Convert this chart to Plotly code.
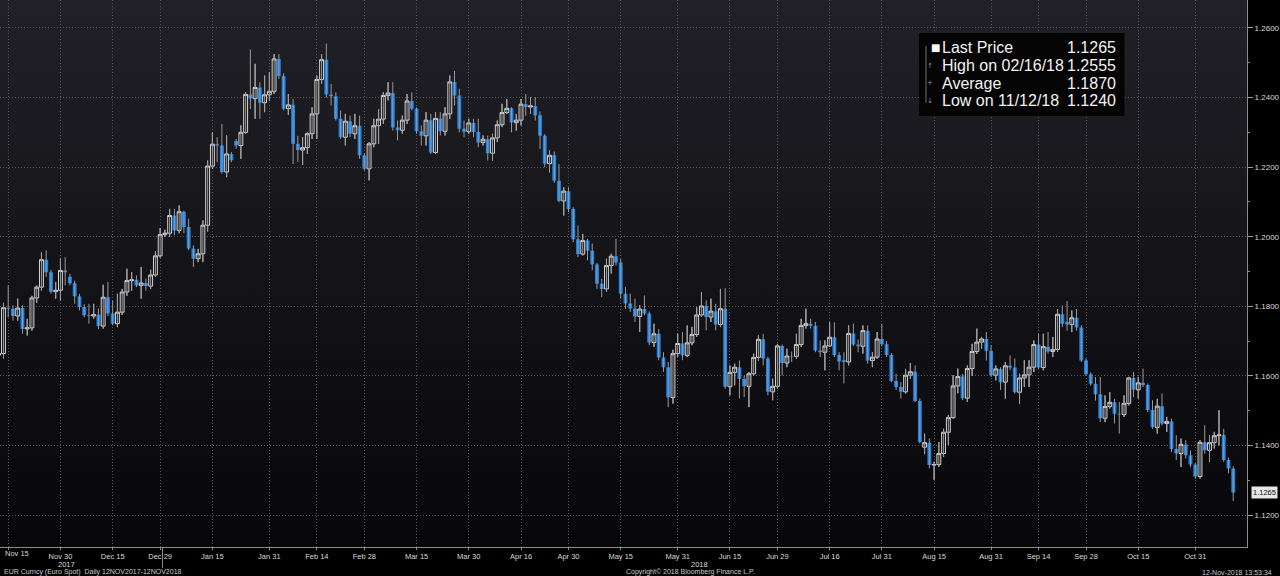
import base64
import pandas as pd
import plotly.graph_objects as go

# ---------------- data (EUR Curncy daily, 13 Nov 2017 - 12 Nov 2018) ----------------
dates = pd.bdate_range("2017-11-13", "2018-11-12")

opens = [
    1.1660, 1.1664, 1.1796, 1.1793, 1.1772, 1.1795, 1.1735, 1.1738, 1.1824, 1.1855,
    1.1934, 1.1898, 1.1842, 1.1846, 1.1903, 1.1885, 1.1866, 1.1829, 1.1798, 1.1774,
    1.1772, 1.1776, 1.1743, 1.1826, 1.1779, 1.1750, 1.1783, 1.1841, 1.1874, 1.1876,
    1.1860, 1.1867, 1.1858, 1.1890, 1.1945, 1.2006, 1.2010, 1.2061, 1.2018, 1.2072,
    1.2028, 1.1966, 1.1937, 1.1951, 1.2033, 1.2203, 1.2266, 1.2262, 1.2186, 1.2238,
    1.2275, 1.2262, 1.2300, 1.2409, 1.2397, 1.2429, 1.2385, 1.2408, 1.2418, 1.2511,
    1.2462, 1.2368, 1.2379, 1.2267, 1.2249, 1.2256, 1.2296, 1.2353, 1.2452, 1.2509,
    1.2409, 1.2404, 1.2339, 1.2286, 1.2332, 1.2296, 1.2319, 1.2234, 1.2195, 1.2267,
    1.2319, 1.2338, 1.2406, 1.2413, 1.2314, 1.2306, 1.2335, 1.2390, 1.2368, 1.2303,
    1.2290, 1.2335, 1.2242, 1.2340, 1.2303, 1.2353, 1.2445, 1.2406, 1.2310, 1.2302,
    1.2327, 1.2301, 1.2271, 1.2280, 1.2240, 1.2284, 1.2322, 1.2357, 1.2369, 1.2328,
    1.2335, 1.2381, 1.2373, 1.2376, 1.2349, 1.2290, 1.2210, 1.2234, 1.2161, 1.2103,
    1.2131, 1.2080, 1.1993, 1.1950, 1.1989, 1.1960, 1.1920, 1.1865, 1.1850, 1.1917,
    1.1944, 1.1926, 1.1836, 1.1808, 1.1794, 1.1771, 1.1792, 1.1779, 1.1696, 1.1721,
    1.1653, 1.1625, 1.1538, 1.1664, 1.1693, 1.1659, 1.1695, 1.1719, 1.1775, 1.1801,
    1.1769, 1.1786, 1.1748, 1.1793, 1.1569, 1.1610, 1.1625, 1.1591, 1.1570, 1.1606,
    1.1653, 1.1705, 1.1650, 1.1554, 1.1570, 1.1686, 1.1637, 1.1657, 1.1656, 1.1690,
    1.1745, 1.1750, 1.1744, 1.1673, 1.1668, 1.1686, 1.1711, 1.1660, 1.1645, 1.1640,
    1.1722, 1.1690, 1.1685, 1.1730, 1.1644, 1.1654, 1.1706, 1.1691, 1.1660, 1.1585,
    1.1568, 1.1554, 1.1602, 1.1612, 1.1528, 1.1395, 1.1408, 1.1344, 1.1345, 1.1377,
    1.1438, 1.1480, 1.1571, 1.1598, 1.1536, 1.1621, 1.1670, 1.1697, 1.1706, 1.1672,
    1.1602, 1.1620, 1.1582, 1.1629, 1.1624, 1.1553, 1.1594, 1.1603, 1.1625, 1.1690,
    1.1624, 1.1684, 1.1670, 1.1676, 1.1777, 1.1755, 1.1748, 1.1767, 1.1739, 1.1644,
    1.1605, 1.1577, 1.1547, 1.1478, 1.1512, 1.1524, 1.1491, 1.1489, 1.1521, 1.1594,
    1.1560, 1.1580, 1.1574, 1.1502, 1.1452, 1.1513, 1.1463, 1.1469, 1.1390, 1.1377,
    1.1403, 1.1372, 1.1345, 1.1311, 1.1409, 1.1386, 1.1408, 1.1428, 1.1430, 1.1358,
    1.1334,
]

highs = [
    1.1680, 1.1810, 1.1860, 1.1803, 1.1822, 1.1803, 1.1764, 1.1830, 1.1860, 1.1955,
    1.1961, 1.1905, 1.1870, 1.1937, 1.1941, 1.1893, 1.1874, 1.1836, 1.1806, 1.1807,
    1.1807, 1.1794, 1.1862, 1.1870, 1.1817, 1.1836, 1.1850, 1.1908, 1.1898, 1.1889,
    1.1913, 1.1880, 1.1905, 1.1958, 1.2025, 1.2020, 1.2080, 1.2080, 1.2090, 1.2075,
    1.2052, 1.1975, 1.1965, 1.2047, 1.2219, 1.2300, 1.2286, 1.2324, 1.2291, 1.2243,
    1.2281, 1.2320, 1.2415, 1.2538, 1.2497, 1.2444, 1.2463, 1.2473, 1.2525, 1.2525,
    1.2470, 1.2410, 1.2396, 1.2290, 1.2286, 1.2300, 1.2372, 1.2463, 1.2525, 1.2555,
    1.2439, 1.2415, 1.2363, 1.2353, 1.2348, 1.2353, 1.2348, 1.2240, 1.2272, 1.2339,
    1.2367, 1.2415, 1.2444, 1.2444, 1.2334, 1.2348, 1.2410, 1.2415, 1.2372, 1.2320,
    1.2358, 1.2353, 1.2358, 1.2358, 1.2372, 1.2463, 1.2477, 1.2425, 1.2334, 1.2339,
    1.2339, 1.2339, 1.2291, 1.2291, 1.2296, 1.2334, 1.2382, 1.2396, 1.2372, 1.2353,
    1.2396, 1.2410, 1.2401, 1.2401, 1.2360, 1.2295, 1.2248, 1.2245, 1.2209, 1.2142,
    1.2142, 1.2085, 1.2032, 1.2008, 1.1994, 1.1980, 1.1925, 1.1879, 1.1937, 1.1951,
    1.1994, 1.1937, 1.1855, 1.1836, 1.1822, 1.1803, 1.1831, 1.1785, 1.1750, 1.1735,
    1.1668, 1.1640, 1.1675, 1.1721, 1.1726, 1.1745, 1.1741, 1.1798, 1.1841, 1.1817,
    1.1822, 1.1807, 1.1850, 1.1852, 1.1630, 1.1635, 1.1644, 1.1601, 1.1611, 1.1664,
    1.1716, 1.1721, 1.1655, 1.1592, 1.1692, 1.1690, 1.1678, 1.1670, 1.1721, 1.1764,
    1.1793, 1.1764, 1.1755, 1.1702, 1.1702, 1.1754, 1.1754, 1.1668, 1.1668, 1.1745,
    1.1750, 1.1705, 1.1745, 1.1745, 1.1668, 1.1726, 1.1750, 1.1700, 1.1665, 1.1606,
    1.1582, 1.1620, 1.1637, 1.1630, 1.1535, 1.1434, 1.1420, 1.1353, 1.1410, 1.1448,
    1.1487, 1.1602, 1.1621, 1.1606, 1.1630, 1.1692, 1.1736, 1.1712, 1.1726, 1.1688,
    1.1630, 1.1625, 1.1640, 1.1659, 1.1650, 1.1606, 1.1645, 1.1645, 1.1702, 1.1721,
    1.1721, 1.1726, 1.1712, 1.1792, 1.1802, 1.1815, 1.1788, 1.1792, 1.1745, 1.1650,
    1.1610, 1.1597, 1.1597, 1.1544, 1.1553, 1.1534, 1.1525, 1.1544, 1.1597, 1.1611,
    1.1597, 1.1621, 1.1578, 1.1530, 1.1534, 1.1549, 1.1482, 1.1477, 1.1429, 1.1420,
    1.1415, 1.1386, 1.1350, 1.1415, 1.1458, 1.1429, 1.1439, 1.1501, 1.1448, 1.1365,
    1.1340,
]

lows = [
    1.1640, 1.1650, 1.1769, 1.1759, 1.1759, 1.1721, 1.1716, 1.1730, 1.1810, 1.1845,
    1.1885, 1.1836, 1.1822, 1.1817, 1.1860, 1.1860, 1.1807, 1.1788, 1.1768, 1.1750,
    1.1764, 1.1735, 1.1736, 1.1772, 1.1745, 1.1740, 1.1775, 1.1830, 1.1845, 1.1855,
    1.1822, 1.1845, 1.1850, 1.1885, 1.1940, 1.1999, 1.2000, 1.2004, 1.2010, 1.2010,
    1.1961, 1.1913, 1.1927, 1.1927, 1.2015, 1.2195, 1.2214, 1.2181, 1.2171, 1.2214,
    1.2253, 1.2224, 1.2296, 1.2367, 1.2339, 1.2339, 1.2358, 1.2391, 1.2410, 1.2453,
    1.2363, 1.2350, 1.2209, 1.2215, 1.2206, 1.2238, 1.2281, 1.2281, 1.2440, 1.2400,
    1.2377, 1.2334, 1.2281, 1.2262, 1.2286, 1.2281, 1.2224, 1.2190, 1.2162, 1.2257,
    1.2267, 1.2324, 1.2392, 1.2305, 1.2277, 1.2296, 1.2324, 1.2363, 1.2296, 1.2262,
    1.2262, 1.2238, 1.2238, 1.2291, 1.2291, 1.2339, 1.2377, 1.2300, 1.2286, 1.2296,
    1.2286, 1.2257, 1.2262, 1.2219, 1.2219, 1.2272, 1.2315, 1.2353, 1.2300, 1.2305,
    1.2320, 1.2348, 1.2353, 1.2334, 1.2252, 1.2200, 1.2185, 1.2155, 1.2099, 1.2061,
    1.2071, 1.1984, 1.1941, 1.1946, 1.1932, 1.1903, 1.1850, 1.1826, 1.1841, 1.1894,
    1.1917, 1.1822, 1.1793, 1.1784, 1.1755, 1.1726, 1.1774, 1.1688, 1.1683, 1.1645,
    1.1611, 1.1510, 1.1520, 1.1654, 1.1645, 1.1654, 1.1688, 1.1712, 1.1769, 1.1731,
    1.1755, 1.1731, 1.1740, 1.1563, 1.1544, 1.1573, 1.1535, 1.1539, 1.1510, 1.1601,
    1.1644, 1.1630, 1.1544, 1.1530, 1.1563, 1.1601, 1.1625, 1.1640, 1.1649, 1.1683,
    1.1736, 1.1736, 1.1668, 1.1654, 1.1616, 1.1683, 1.1654, 1.1616, 1.1578, 1.1630,
    1.1685, 1.1668, 1.1664, 1.1635, 1.1625, 1.1649, 1.1685, 1.1654, 1.1582, 1.1560,
    1.1535, 1.1549, 1.1592, 1.1525, 1.1405, 1.1375, 1.1334, 1.1301, 1.1338, 1.1367,
    1.1401, 1.1477, 1.1550, 1.1530, 1.1525, 1.1600, 1.1663, 1.1678, 1.1644, 1.1597,
    1.1587, 1.1559, 1.1535, 1.1616, 1.1549, 1.1520, 1.1568, 1.1568, 1.1611, 1.1620,
    1.1616, 1.1664, 1.1654, 1.1669, 1.1740, 1.1730, 1.1726, 1.1730, 1.1640, 1.1600,
    1.1572, 1.1529, 1.1467, 1.1467, 1.1506, 1.1463, 1.1434, 1.1482, 1.1515, 1.1539,
    1.1535, 1.1568, 1.1496, 1.1448, 1.1434, 1.1458, 1.1439, 1.1381, 1.1358, 1.1338,
    1.1362, 1.1338, 1.1305, 1.1305, 1.1376, 1.1353, 1.1391, 1.1400, 1.1353, 1.1320,
    1.1240,
]

closes = [
    1.1664, 1.1796, 1.1793, 1.1772, 1.1795, 1.1735, 1.1738, 1.1824, 1.1855, 1.1934,
    1.1898, 1.1842, 1.1846, 1.1903, 1.1898, 1.1866, 1.1829, 1.1798, 1.1774, 1.1772,
    1.1776, 1.1743, 1.1826, 1.1779, 1.1750, 1.1783, 1.1841, 1.1874, 1.1876, 1.1860,
    1.1867, 1.1858, 1.1890, 1.1945, 1.2006, 1.2010, 1.2061, 1.2018, 1.2072, 1.2028,
    1.1966, 1.1937, 1.1951, 1.2033, 1.2203, 1.2266, 1.2262, 1.2186, 1.2238, 1.2220,
    1.2262, 1.2300, 1.2409, 1.2397, 1.2429, 1.2385, 1.2408, 1.2418, 1.2511, 1.2462,
    1.2368, 1.2379, 1.2267, 1.2249, 1.2256, 1.2296, 1.2353, 1.2452, 1.2509, 1.2409,
    1.2404, 1.2339, 1.2286, 1.2332, 1.2296, 1.2319, 1.2234, 1.2195, 1.2267, 1.2319,
    1.2338, 1.2406, 1.2413, 1.2314, 1.2306, 1.2335, 1.2390, 1.2368, 1.2303, 1.2290,
    1.2335, 1.2242, 1.2340, 1.2303, 1.2353, 1.2445, 1.2406, 1.2310, 1.2302, 1.2327,
    1.2301, 1.2271, 1.2280, 1.2240, 1.2284, 1.2322, 1.2357, 1.2369, 1.2328, 1.2335,
    1.2381, 1.2373, 1.2376, 1.2349, 1.2290, 1.2210, 1.2234, 1.2161, 1.2103, 1.2131,
    1.2080, 1.1993, 1.1950, 1.1989, 1.1960, 1.1920, 1.1865, 1.1850, 1.1917, 1.1944,
    1.1926, 1.1836, 1.1808, 1.1794, 1.1771, 1.1792, 1.1779, 1.1696, 1.1721, 1.1653,
    1.1625, 1.1538, 1.1664, 1.1693, 1.1659, 1.1695, 1.1719, 1.1775, 1.1801, 1.1769,
    1.1786, 1.1748, 1.1793, 1.1569, 1.1610, 1.1625, 1.1591, 1.1570, 1.1606, 1.1653,
    1.1705, 1.1650, 1.1554, 1.1570, 1.1686, 1.1637, 1.1657, 1.1656, 1.1690, 1.1745,
    1.1750, 1.1744, 1.1673, 1.1668, 1.1686, 1.1711, 1.1660, 1.1641, 1.1640, 1.1722,
    1.1690, 1.1685, 1.1730, 1.1644, 1.1654, 1.1706, 1.1691, 1.1660, 1.1585, 1.1568,
    1.1554, 1.1602, 1.1612, 1.1528, 1.1410, 1.1408, 1.1344, 1.1345, 1.1377, 1.1438,
    1.1480, 1.1571, 1.1598, 1.1536, 1.1621, 1.1670, 1.1697, 1.1706, 1.1672, 1.1602,
    1.1620, 1.1582, 1.1629, 1.1624, 1.1553, 1.1594, 1.1603, 1.1625, 1.1690, 1.1624,
    1.1684, 1.1670, 1.1676, 1.1777, 1.1750, 1.1748, 1.1767, 1.1739, 1.1644, 1.1605,
    1.1577, 1.1547, 1.1478, 1.1512, 1.1524, 1.1491, 1.1489, 1.1521, 1.1594, 1.1560,
    1.1580, 1.1574, 1.1502, 1.1452, 1.1513, 1.1463, 1.1469, 1.1390, 1.1377, 1.1403,
    1.1372, 1.1345, 1.1311, 1.1409, 1.1386, 1.1408, 1.1428, 1.1430, 1.1358, 1.1334,
    1.1265,
]

tick_dates = ["2017-11-15", "2017-11-30", "2017-12-15", "2017-12-29", "2018-01-15",
              "2018-01-31", "2018-02-14", "2018-02-28", "2018-03-15", "2018-03-30",
              "2018-04-16", "2018-04-30", "2018-05-15", "2018-05-31", "2018-06-15",
              "2018-06-29", "2018-07-16", "2018-07-31", "2018-08-15", "2018-08-31",
              "2018-09-14", "2018-09-28", "2018-10-15", "2018-10-31"]
tick_labels = ["Nov 15", "Nov 30", "Dec 15", "Dec 29", "Jan 15", "Jan 31", "Feb 14",
               "Feb 28", "Mar 15", "Mar 30", "Apr 16", "Apr 30", "May 15", "May 31",
               "Jun 15", "Jun 29", "Jul 16", "Jul 31", "Aug 15", "Aug 31", "Sep 14",
               "Sep 28", "Oct 15", "Oct 31"]
price_ticks = [1.12, 1.14, 1.16, 1.18, 1.20, 1.22, 1.24, 1.26]

legend_labels = ["Last Price", "High on 02/16/18", "Average", "Low on 11/12/18"]
legend_values = ["1.1265", "1.2555", "1.1870", "1.1240"]
last_price = 1.1265

# ---------------- figure ----------------
x = list(range(len(dates)))
tick_pos = [dates.get_loc(pd.Timestamp(d)) for d in tick_dates]

W_PLOT, H_PLOT = 1251.0, 547.0
def px(v):
    return v / W_PLOT
def py(v):
    return 1 - v / H_PLOT

FONT = "Liberation Sans, Arial, sans-serif"
TICKC = "#d8d8d8"
SMALL = 7.5
FOOT = 7

wx, wy = [], []
for i, (h, l) in enumerate(zip(highs, lows)):
    wx += [i, i, None]
    wy += [l, h, None]

fig = go.Figure()
fig.add_trace(go.Scatter(x=wx, y=wy, mode="lines",
                         line=dict(color="#9a9a9a", width=1),
                         hoverinfo="skip", showlegend=False))
fig.add_trace(go.Candlestick(
    x=x, open=opens, high=highs, low=lows, close=closes,
    increasing=dict(line=dict(color="#d4d4d4", width=1), fillcolor="#16161b"),
    decreasing=dict(line=dict(color="#1b84ea", width=0), fillcolor="#1b84ea"),
    whiskerwidth=0, showlegend=False, name="EUR"))

svg = ('<svg xmlns="http://www.w3.org/2000/svg" width="100" height="100" '
       'preserveAspectRatio="none"><defs><linearGradient id="g" x1="0" y1="0" '
       'x2="0" y2="1"><stop offset="0" stop-color="#202026"/>'
       '<stop offset="1" stop-color="#07070a"/></linearGradient></defs>'
       '<rect width="100" height="100" fill="url(#g)"/></svg>')
svg_uri = "data:image/svg+xml;base64," + base64.b64encode(svg.encode()).decode()

annotations = []
# legend box texts
rows_y = [48, 65.5, 83, 100.5]
for lab, val, yy in zip(legend_labels, legend_values, rows_y):
    annotations.append(dict(xref="paper", yref="paper", x=px(943), y=py(yy), text=lab,
                            showarrow=False, xanchor="left", yanchor="middle",
                            font=dict(family=FONT, size=16, color="#f2f2f2")))
    annotations.append(dict(xref="paper", yref="paper", x=px(1122), y=py(yy), text=val,
                            showarrow=False, xanchor="right", yanchor="middle",
                            font=dict(family=FONT, size=16, color="#f2f2f2")))
annotations.append(dict(xref="paper", yref="paper", x=px(938), y=py(48), text="■",
                        showarrow=False, xanchor="center", yanchor="middle",
                        font=dict(family="DejaVu Sans", size=10, color="#ffffff")))
for glyph, yy in zip(["↑", "+", "↓"], rows_y[1:]):
    annotations.append(dict(xref="paper", yref="paper", x=px(933), y=py(yy), text=glyph,
                            showarrow=False, xanchor="center", yanchor="middle",
                            font=dict(family="DejaVu Sans", size=7, color="#9a9a9a")))
# first date label (sits against the left edge)
annotations.append(dict(xref="paper", yref="paper", x=px(3), y=py(553.5), text=tick_labels[0],
                        showarrow=False, xanchor="left", yanchor="middle",
                        font=dict(family=FONT, size=SMALL, color=TICKC)))
# year labels
annotations.append(dict(xref="x", yref="paper", x=14.2, y=py(564), text="2017",
                        showarrow=False, xanchor="center", yanchor="middle",
                        font=dict(family=FONT, size=SMALL, color=TICKC)))
annotations.append(dict(xref="x", yref="paper", x=147.5, y=py(564), text="2018",
                        showarrow=False, xanchor="center", yanchor="middle",
                        font=dict(family=FONT, size=SMALL, color=TICKC)))
# footer
annotations.append(dict(xref="paper", yref="paper", x=px(2), y=py(572),
                        text="EUR Curncy (Euro Spot)  Daily 12NOV2017-12NOV2018",
                        showarrow=False, xanchor="left", yanchor="middle",
                        font=dict(family=FONT, size=FOOT, color="#c8c8c8")))
annotations.append(dict(xref="paper", yref="paper", x=px(693), y=py(572),
                        text="Copyright© 2018 Bloomberg Finance L.P.",
                        showarrow=False, xanchor="center", yanchor="middle",
                        font=dict(family=FONT, size=FOOT, color="#c8c8c8")))
annotations.append(dict(xref="paper", yref="paper", x=px(1278), y=py(572),
                        text="12-Nov-2018 13:53:34",
                        showarrow=False, xanchor="right", yanchor="middle",
                        font=dict(family=FONT, size=FOOT, color="#c8c8c8")))
# last price tag
annotations.append(dict(xref="paper", yref="y", x=px(1255), y=last_price,
                        text=f"{last_price:.4f}", showarrow=False,
                        xanchor="left", yanchor="middle", bgcolor="#e6e6e6",
                        borderpad=1, font=dict(family=FONT, size=SMALL, color="#111111")))

shapes = [
    dict(type="rect", xref="paper", yref="paper", x0=px(922), x1=px(1128),
         y0=py(116), y1=py(33), fillcolor="#040404", line=dict(width=0), layer="above"),
    dict(type="line", xref="paper", yref="paper", x0=px(929), x1=px(929),
         y0=py(46), y1=py(103), line=dict(color="#6e6e6e", width=1), layer="above"),
    dict(type="line", xref="x", yref="paper", x0=34.5, x1=34.5,
         y0=0, y1=py(568), line=dict(color="#8a8a8a", width=1)),
]

tick_text_axis = [""] + tick_labels[1:]

fig.update_layout(
    width=1280, height=576,
    margin=dict(l=0, r=29, t=0, b=29, pad=0),
    paper_bgcolor="#000000",
    plot_bgcolor="rgba(0,0,0,0)",
    font=dict(family=FONT, size=8, color="#d0d0d0"),
    showlegend=False,
    boxgap=0.18,
    boxgroupgap=0,
    images=[dict(source=svg_uri, xref="paper", yref="paper", x=0, y=1,
                 sizex=1, sizey=1, sizing="stretch", layer="below",
                 xanchor="left", yanchor="top")],
    annotations=annotations,
    shapes=shapes,
    xaxis=dict(range=[0.27, 262.9], tickmode="array", tickvals=tick_pos,
               ticktext=tick_text_axis, showgrid=True, gridcolor="#555555",
               griddash="1px,2px", gridwidth=1, showline=True, linecolor="#8c8c8c",
               ticks="outside", ticklen=2, tickcolor="#8c8c8c", zeroline=False,
               rangeslider=dict(visible=False),
               tickfont=dict(family=FONT, size=SMALL, color=TICKC)),
    yaxis=dict(side="right", range=[1.11081, 1.26804], tickmode="array",
               tickvals=price_ticks, tickformat=".4f", showgrid=True,
               gridcolor="#555555", griddash="1px,2px", gridwidth=1, showline=True,
               linecolor="#8c8c8c", ticks="outside", ticklen=5, tickcolor="#a0a0a0",
               minor=dict(tickmode="linear", tick0=1.11, dtick=0.01, ticks="outside",
                          ticklen=2, tickcolor="#8c8c8c", showgrid=False),
               zeroline=False, tickfont=dict(family=FONT, size=8, color=TICKC)),
)

fig.write_html("out.html",
               config={"displayModeBar": False},
               post_script="document.body.style.margin='0';"
                           "document.body.style.overflow='hidden';")
